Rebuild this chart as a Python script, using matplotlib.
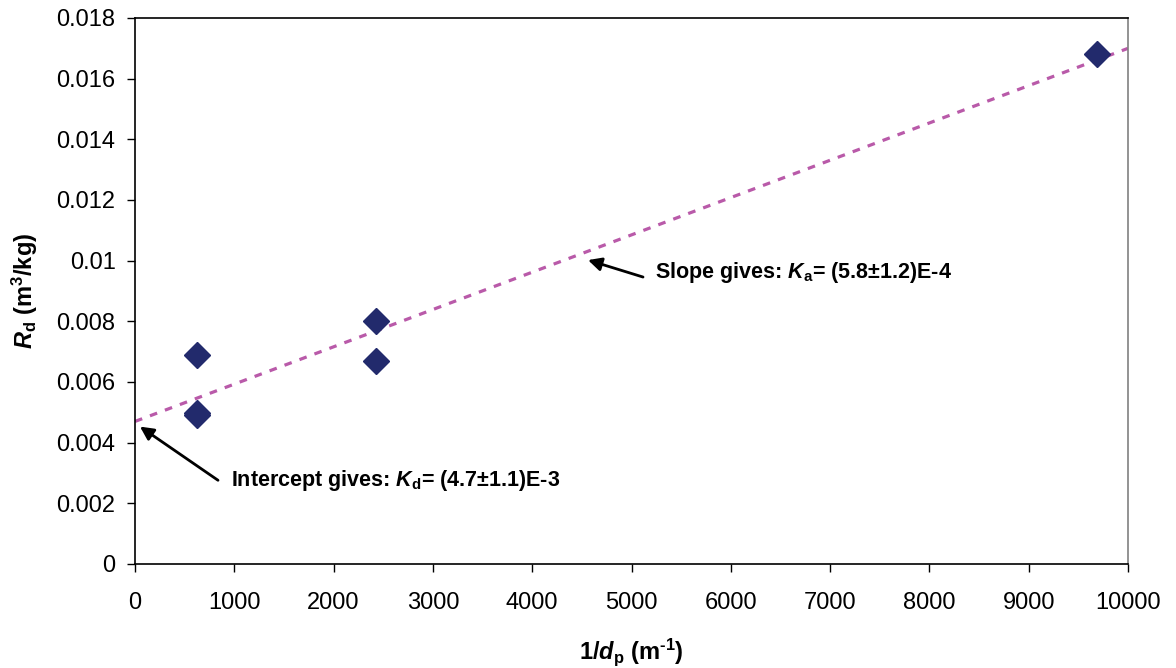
import numpy as np
import matplotlib
matplotlib.use("Agg")
import matplotlib.pyplot as plt

plt.rcParams['font.family'] = ['Liberation Sans', 'DejaVu Sans']
plt.rcParams['mathtext.fontset'] = 'custom'
plt.rcParams['mathtext.rm'] = 'Liberation Sans:bold'
plt.rcParams['mathtext.it'] = 'Liberation Sans:bold:italic'
plt.rcParams['mathtext.bf'] = 'Liberation Sans:bold'

# data
inv_dp = [624, 624, 624, 2427, 2427, 9688]
Rd = [0.0069, 0.0049, 0.00497, 0.0080, 0.0067, 0.01680]

# trend line (linear fit shown in the chart)
fit_intercept = 0.0047
fit_slope = 1.23e-6
fit_x = [0, 10000]

xticks = np.arange(0, 10001, 1000)
yticks = np.arange(0, 0.0181, 0.002)

fig = plt.figure(figsize=(11.76, 6.68), dpi=100)
ax = fig.add_axes([135 / 1176, (668 - 564) / 668, (1128 - 135) / 1176, (564 - 18) / 668])

fx = np.array(fit_x)
line, = ax.plot(fx, fit_intercept + fit_slope * fx, color='#B95AA9', lw=2.3, zorder=2)
line.set_dashes([2.4, 2.6])

ax.plot(inv_dp, Rd, linestyle='none', marker='D', markersize=13,
        color='#222A6C', zorder=3)

ax.set_xlim(0, 10000)
ax.set_ylim(0, 0.018)
ax.set_xticks(xticks)
ax.set_yticks(yticks)
ax.set_yticklabels(['%g' % round(v, 3) for v in yticks])
ax.tick_params(direction='out', length=6, width=1, labelsize=17)
ax.tick_params(axis='x', pad=14)
ax.tick_params(axis='y', pad=8)

for s in ['left', 'bottom', 'top']:
    ax.spines[s].set_color('black')
    ax.spines[s].set_linewidth(1.2)
ax.spines['right'].set_color('#808080')
ax.spines['right'].set_linewidth(1.2)

ax.set_xlabel(r'1/$d_{\mathrm{p}}$ (m$^{\mathrm{\text{-}1}}$)', fontsize=17,
              fontweight='bold', labelpad=16)
ax.set_ylabel(r'$R_{\mathrm{d}}$ (m$^{\mathrm{3}}$/kg)', fontsize=17,
              fontweight='bold', labelpad=12)

# annotations
ax.annotate('', xy=(50, 0.00453), xytext=(836, 0.00276),
            arrowprops=dict(arrowstyle='-|>', color='black', lw=2,
                            mutation_scale=20, shrinkA=0, shrinkB=0))
ax.text(967, 0.00274, r'Intercept gives: $K_{\mathrm{d}}$= (4.7$\pm$1.1)E-3',
        fontsize=15.5, fontweight='bold', va='center', ha='left')

ax.annotate('', xy=(4562, 0.01002), xytext=(5116, 0.00946),
            arrowprops=dict(arrowstyle='-|>', color='black', lw=2,
                            mutation_scale=20, shrinkA=0, shrinkB=0))
ax.text(5237, 0.00962, r'Slope gives: $K_{\mathrm{a}}$= (5.8$\pm$1.2)E-4',
        fontsize=15.5, fontweight='bold', va='center', ha='left')

fig.savefig('out.png', dpi=100)
